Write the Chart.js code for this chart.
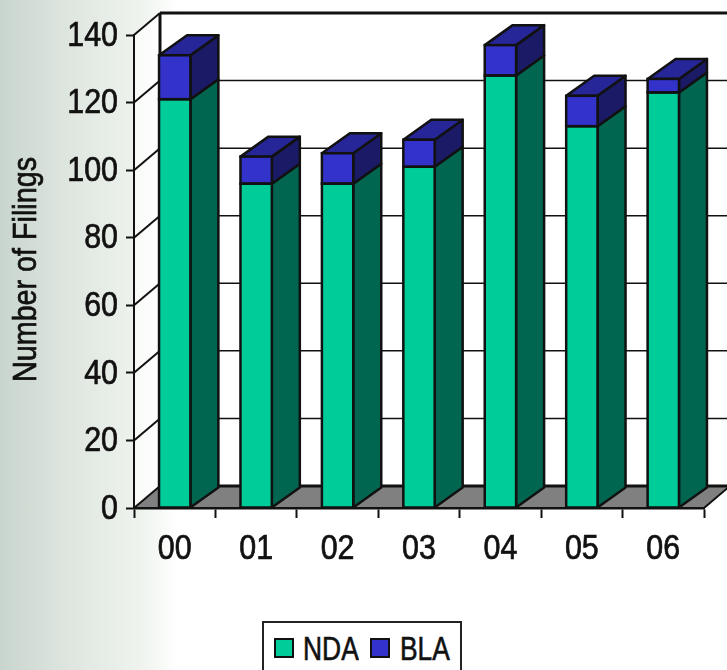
<!DOCTYPE html>
<html>
<head>
<meta charset="utf-8">
<title>Number of Filings</title>
<script src="https://cdn.jsdelivr.net/npm/chart.js@4"></script>
<style>
  html, body { margin: 0; height: 100%; overflow: hidden; }
  body {
    background: linear-gradient(to right, #c8d5ce 0, #dfe6e0 70px, #eef3ed 140px, #fff 178px);
  }
  #wrap { position: relative; width: 727px; height: 670px; overflow: hidden; }
  canvas { position: absolute; left: 0; top: 0; }
  #legend {
    position: absolute; left: 262px; top: 621px; width: 196px; height: 60px;
    background: #fff; border: 2px solid #222;
    font: 33px "Liberation Sans", sans-serif; color: #111;
    -webkit-text-stroke: 0.6px #111;
  }
  #legend i {
    position: absolute; top: 15px; width: 16px; height: 16px;
    border: 2px solid #111;
  }
  #legend span { position: absolute; top: 7px; line-height: 38px; transform: scaleX(.8); transform-origin: 0 50%; }
</style>
</head>
<body>
<div id="wrap">
  <canvas id="filingsChart" width="727" height="670"></canvas>
  <div id="legend"></div>
</div>
<script>
const years = ["00", "01", "02", "03", "04", "05", "06"];
const ndaFilings = [121, 96, 96, 101, 128, 113, 123];
const blaFilings = [13, 8, 9, 8, 9, 9, 4];
const axisTitle = "Number of Filings";

const ndaColors = { front: "#00cc99", side: "#006650" };
const blaColors = { front: "#3333cc", side: "#1a1a66", top: "#262699" };
const labelFont = '"Liberation Sans", sans-serif';
const textSqueeze = 0.87; // no narrow face installed, so the labels are condensed by hand

// how far the walls and the bar bodies recede into the picture
const wallDepth = { x: 26, y: 22 };
const barDepth = { x: 28, y: 20 };

function poly(ctx, pts, fill, stroke, lw) {
  ctx.beginPath();
  pts.forEach((p, i) => i ? ctx.lineTo(p[0], p[1]) : ctx.moveTo(p[0], p[1]));
  ctx.closePath();
  if (fill) { ctx.fillStyle = fill; ctx.fill(); }
  if (stroke) { ctx.strokeStyle = stroke; ctx.lineWidth = lw; ctx.stroke(); }
}

function line(ctx, x1, y1, x2, y2, lw) {
  ctx.beginPath();
  ctx.moveTo(x1, y1);
  ctx.lineTo(x2, y2);
  ctx.lineWidth = lw;
  ctx.strokeStyle = "#111";
  ctx.stroke();
}

function squeezedText(ctx, text, x, y, align) {
  ctx.save();
  ctx.translate(x, y);
  ctx.scale(textSqueeze, 1);
  ctx.textAlign = align;
  ctx.textBaseline = "middle";
  ctx.lineWidth = 0.7;
  ctx.strokeStyle = ctx.fillStyle;
  ctx.fillText(text, 0, 0);
  ctx.strokeText(text, 0, 0);
  ctx.restore();
}

// back wall, side wall, floor and the gridlines that run across them
const wallsPlugin = {
  id: "walls",
  beforeDraw(chart) {
    const { ctx, chartArea: a, scales } = chart;
    const dx = wallDepth.x, dy = wallDepth.y;
    ctx.save();
    ctx.lineJoin = "round";
    poly(ctx, [[a.left + dx, a.top - dy], [a.right + dx, a.top - dy], [a.right + dx, a.bottom - dy], [a.left + dx, a.bottom - dy]], "#fff");
    poly(ctx, [[a.left, a.top], [a.left + dx, a.top - dy], [a.left + dx, a.bottom - dy], [a.left, a.bottom]], "rgba(255,255,255,.7)");
    poly(ctx, [[a.left, a.bottom], [a.left + dx, a.bottom - dy], [a.right + dx, a.bottom - dy], [a.right, a.bottom]], "#808080");

    scales.y.ticks.forEach(t => {
      const y = scales.y.getPixelForValue(t.value);
      const edge = t.value === 0 || t.value === scales.y.max;
      line(ctx, a.left, y, a.left + dx, y - dy, 2);
      line(ctx, a.left + dx, y - dy, a.right + dx, y - dy, edge ? 3 : 1.5);
    });
    line(ctx, a.left + dx, a.top - dy, a.left + dx, a.bottom - dy, 3);
    line(ctx, a.right, a.bottom, a.right + dx, a.bottom - dy, 2);
    ctx.restore();
  },
  // side and top faces go in first so the bar fronts sit over their edges
  beforeDatasetsDraw(chart) {
    const { ctx } = chart;
    const dx = barDepth.x, dy = barDepth.y;
    ctx.save();
    ctx.lineJoin = "round";
    chart.data.datasets.forEach((ds, di) => {
      chart.getDatasetMeta(di).data.forEach(bar => {
        const r = bar.x + bar.width / 2, l = bar.x - bar.width / 2;
        poly(ctx, [[r, bar.y], [r + dx, bar.y - dy], [r + dx, bar.base - dy], [r, bar.base]], ds.sideColor, "#111", 2.5);
        if (ds.topColor) {
          poly(ctx, [[l, bar.y], [l + dx, bar.y - dy], [r + dx, bar.y - dy], [r, bar.y]], ds.topColor, "#111", 2.5);
        }
      });
    });
    ctx.restore();
  },
  // front outlines, stroked once so stacked segments share a single seam
  afterDatasetsDraw(chart) {
    const { ctx } = chart;
    ctx.save();
    ctx.strokeStyle = "#111";
    ctx.lineWidth = 2.5;
    chart.data.datasets.forEach((ds, di) => {
      chart.getDatasetMeta(di).data.forEach(bar => {
        ctx.strokeRect(bar.x - bar.width / 2, bar.y, bar.width, bar.base - bar.y);
      });
    });
    ctx.restore();
  }
};

// tick labels and axis title, placed from the scales
const labelsPlugin = {
  id: "narrowLabels",
  afterDraw(chart) {
    const { ctx, chartArea: a, scales } = chart;
    ctx.save();
    ctx.fillStyle = "#111";
    ctx.font = `35px ${labelFont}`;
    scales.y.ticks.forEach(t => {
      squeezedText(ctx, String(t.value), a.left - 16, scales.y.getPixelForValue(t.value) + 1, "right");
    });
    years.forEach((label, i) => {
      squeezedText(ctx, label, scales.x.getPixelForValue(i), a.bottom + 41, "center");
    });
    ctx.font = `33px ${labelFont}`;
    ctx.translate(27, (a.top + a.bottom) / 2 - 2);
    ctx.rotate(-Math.PI / 2);
    squeezedText(ctx, axisTitle, 0, 0, "center");
    ctx.restore();
  }
};

const ctx = document.getElementById("filingsChart").getContext("2d");

const filingsChart = new Chart(ctx, {
  type: "bar",
  data: {
    labels: years,
    datasets: [
      { label: "NDA", data: ndaFilings, backgroundColor: ndaColors.front, sideColor: ndaColors.side,
        borderWidth: 0, inflateAmount: 0 },
      { label: "BLA", data: blaFilings, backgroundColor: blaColors.front, sideColor: blaColors.side,
        topColor: blaColors.top, borderWidth: 0, inflateAmount: 0 }
    ]
  },
  options: {
    responsive: false,
    animation: false,
    layout: { padding: { top: 35, right: 23, bottom: 0, left: 0 } },
    datasets: { bar: { categoryPercentage: 1, barPercentage: 0.385 } },
    plugins: { legend: { display: false }, tooltip: { enabled: false } },
    scales: {
      x: {
        stacked: true,
        afterFit: s => { s.height = 162; },
        border: { display: true, color: "#111", width: 2.5 },
        grid: { drawOnChartArea: false, drawTicks: true, tickLength: 10, tickColor: "#111", tickWidth: 2 },
        ticks: { display: false }
      },
      y: {
        stacked: true,
        min: 0,
        max: 140,
        afterFit: s => { s.width = 134; },
        border: { display: true, color: "#111", width: 2 },
        grid: { drawOnChartArea: false, drawTicks: true, tickLength: 8, tickColor: "#111", tickWidth: 2 },
        ticks: { stepSize: 20, display: false }
      }
    }
  },
  plugins: [wallsPlugin, labelsPlugin]
});

// legend sits in its own box below the plot
const legendEl = document.getElementById("legend");
const legendLayout = [[10, 39], [106, 136]];
legendEl.innerHTML = filingsChart.data.datasets.map((ds, i) => {
  const [box, text] = legendLayout[i];
  return `<i style="left:${box}px;background:${ds.backgroundColor}"></i><span style="left:${text}px">${ds.label}</span>`;
}).join("");
</script>
</body>
</html>
